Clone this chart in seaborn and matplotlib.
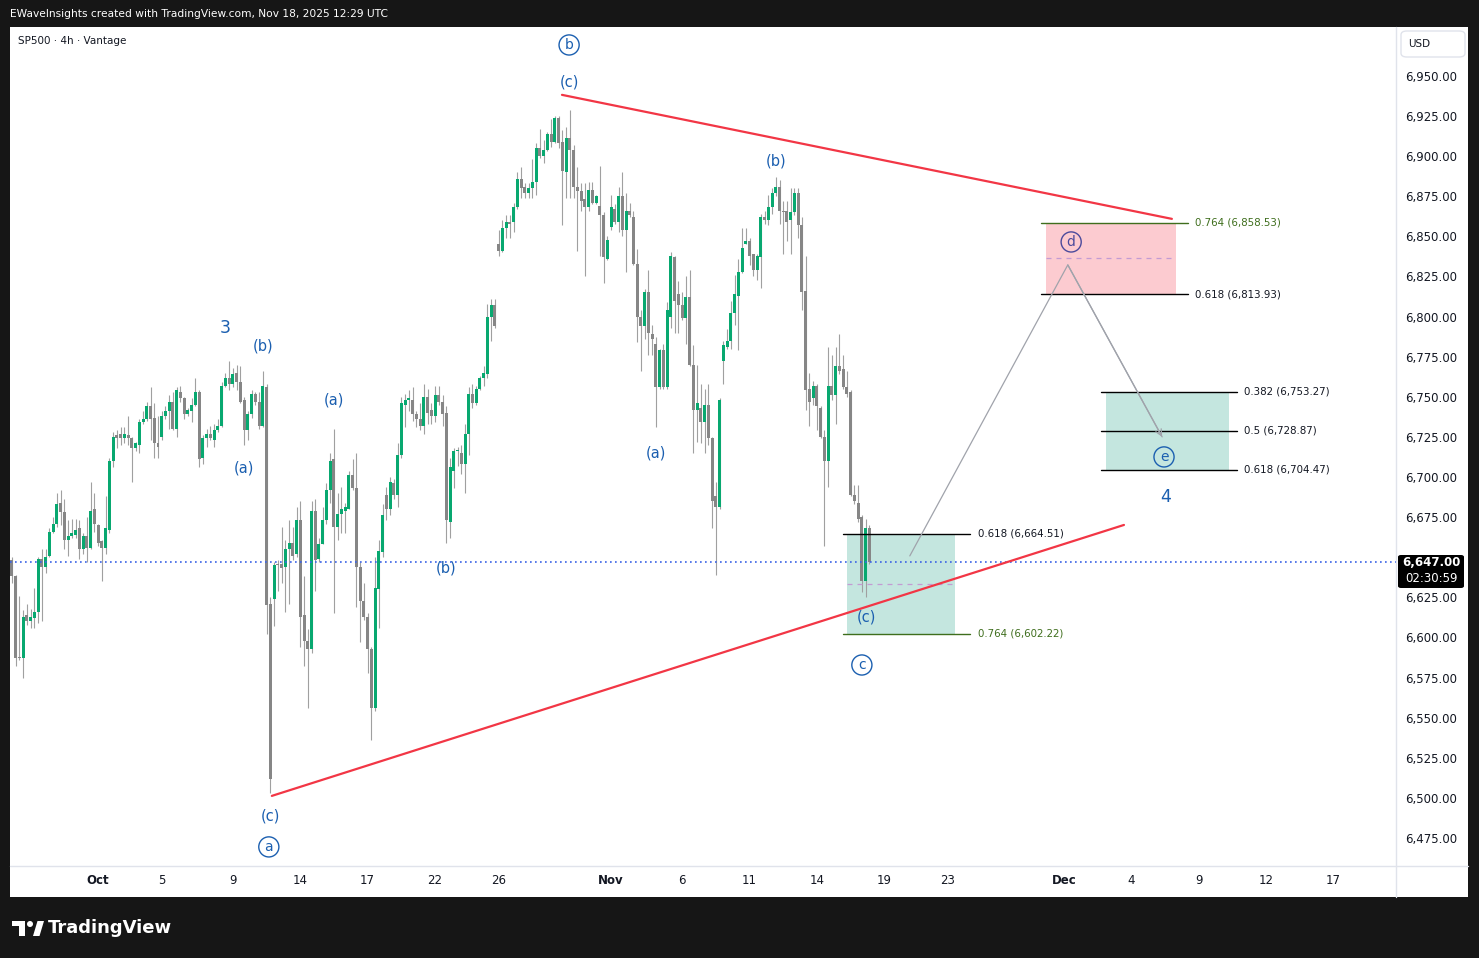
import numpy as np
import pandas as pd
import matplotlib
matplotlib.use("Agg")
import matplotlib.pyplot as plt
import matplotlib.patches as mpatches
from matplotlib.lines import Line2D
import seaborn as sns

W, H = 1479, 958

# ---------------------------------------------
# SP500 4h bars
# ---------------------------------------------
opens = [6648, 6638, 6588, 6587, 6614, 6610, 6612, 6616, 6649, 6644, 6651, 6666, 6671, 6684, 6678, 6661, 6663, 6664, 6668, 6655,
         6663, 6656, 6680, 6670, 6660, 6656, 6667, 6710, 6726,
         6727, 6724, 6726, 6724, 6718, 6720, 6734, 6736, 6744, 6737, 6721, 6725, 6738, 6741, 6747, 6730, 6753, 6749, 6739, 6741,
         6745, 6753, 6712, 6724, 6727, 6723, 6729, 6732, 6757, 6762, 6758, 6765, 6759, 6748, 6729,
         6739, 6752, 6747, 6732, 6756, 6621, 6624, 6646, 6646, 6644, 6655, 6659, 6652, 6673, 6614, 6598, 6593, 6679,
         6649, 6658, 6673, 6692, 6711, 6669, 6677, 6679, 6680, 6701, 6693, 6644, 6623, 6613, 6593, 6556, 6630, 6653, 6689, 6680,
         6696, 6689,
         6714, 6745, 6748, 6748, 6739, 6736, 6732, 6750, 6742, 6738, 6751, 6747, 6740, 6672, 6704, 6716, 6715, 6708, 6727, 6752,
         6746, 6755, 6762, 6764, 6800, 6807, 6845,
         6841, 6855, 6859, 6859, 6868, 6886, 6881, 6877, 6880, 6884, 6905, 6900, 6904, 6914, 6909, 6924, 6909, 6890, 6911, 6904,
         6881, 6878, 6873, 6868, 6879, 6871, 6869, 6863, 6836,
         6856, 6867, 6859, 6875, 6854, 6866, 6862, 6833, 6800, 6794, 6815, 6789, 6783, 6756, 6779, 6756, 6800, 6837, 6814, 6807,
         6799, 6812, 6770, 6742, 6743, 6734, 6745, 6724, 6688, 6681,
         6772, 6781, 6785, 6802, 6813, 6828, 6845, 6847, 6839, 6829, 6837, 6862, 6860, 6868, 6877, 6881, 6866, 6866, 6860, 6865,
         6877, 6857, 6816, 6755,
         6749, 6757, 6743, 6725, 6710, 6757, 6751, 6769, 6767, 6756, 6753, 6689, 6684, 6675, 6635, 6668]
highs = [6650, 6639, 6626, 6617, 6621, 6618, 6631, 6650, 6655, 6655, 6668, 6675, 6690, 6692, 6686, 6673, 6674, 6674, 6673, 6665,
         6675, 6697, 6690, 6671, 6661, 6688, 6712, 6728, 6729,
         6731, 6731, 6738, 6725, 6722, 6736, 6741, 6747, 6756, 6746, 6738, 6741, 6744, 6751, 6753, 6756, 6757, 6750, 6743, 6749,
         6762, 6754, 6726, 6730, 6732, 6733, 6736, 6759, 6765, 6772, 6768, 6770, 6769, 6750, 6741,
         6754, 6753, 6753, 6766, 6758, 6625, 6647, 6648, 6669, 6661, 6673, 6669, 6681, 6685, 6638, 6605, 6685, 6686,
         6662, 6681, 6696, 6715, 6730, 6690, 6694, 6684, 6704, 6711, 6715, 6647, 6634, 6615, 6594, 6650, 6661, 6683, 6694, 6700,
         6699, 6721,
         6750, 6752, 6754, 6756, 6741, 6746, 6758, 6755, 6746, 6757, 6757, 6751, 6744, 6712, 6718, 6719, 6720, 6733, 6756, 6758,
         6757, 6763, 6769, 6808, 6811, 6811, 6854,
         6860, 6863, 6863, 6871, 6890, 6893, 6883, 6883, 6898, 6908, 6917, 6910, 6915, 6923, 6925, 6925, 6916, 6918, 6929, 6907,
         6893, 6883, 6883, 6884, 6884, 6876, 6894, 6865, 6850,
         6876, 6870, 6881, 6890, 6877, 6871, 6866, 6842, 6804, 6817, 6829, 6795, 6787, 6780, 6783, 6809, 6840, 6838, 6822, 6815,
         6825, 6829, 6782, 6770, 6758, 6755, 6758, 6725, 6697, 6749,
         6785, 6792, 6810, 6826, 6836, 6855, 6855, 6849, 6839, 6839, 6864, 6866, 6876, 6880, 6887, 6885, 6872, 6872, 6880, 6880,
         6880, 6862, 6838, 6765,
         6760, 6758, 6744, 6729, 6781, 6776, 6781, 6789, 6776, 6766, 6754, 6695, 6695, 6676, 6674, 6670]
lows = [6634, 6582, 6586, 6575, 6608, 6606, 6606, 6609, 6610, 6640, 6650, 6665, 6669, 6670, 6655, 6651, 6662, 6662, 6649, 6652,
        6647, 6655, 6666, 6657, 6635, 6652, 6665, 6706, 6718,
        6720, 6721, 6720, 6697, 6716, 6715, 6733, 6735, 6723, 6712, 6712, 6723, 6736, 6730, 6729, 6725, 6747, 6736, 6738, 6734,
        6744, 6706, 6708, 6719, 6723, 6719, 6728, 6731, 6756, 6754, 6756, 6754, 6746, 6720, 6723,
        6737, 6745, 6730, 6731, 6602, 6503, 6607, 6629, 6634, 6616, 6621, 6648, 6650, 6594, 6582, 6556, 6590, 6629,
        6647, 6658, 6671, 6684, 6615, 6661, 6665, 6665, 6680, 6692, 6619, 6597, 6611, 6578, 6536, 6554, 6606, 6650, 6673, 6676,
        6686, 6681,
        6712, 6731, 6741, 6735, 6731, 6729, 6727, 6733, 6733, 6734, 6745, 6732, 6659, 6662, 6693, 6707, 6702, 6690, 6714, 6743,
        6745, 6754, 6757, 6762, 6785, 6793, 6838,
        6840, 6849, 6849, 6853, 6867, 6874, 6874, 6874, 6874, 6876, 6899, 6896, 6903, 6906, 6908, 6905, 6857, 6874, 6874, 6874,
        6841, 6866, 6825, 6866, 6870, 6870, 6838, 6821, 6835,
        6854, 6858, 6853, 6850, 6828, 6862, 6832, 6784, 6766, 6786, 6776, 6776, 6731, 6755, 6755, 6755, 6793, 6790, 6790, 6798,
        6783, 6769, 6715, 6722, 6721, 6715, 6720, 6668, 6639, 6680,
        6758, 6780, 6780, 6795, 6779, 6827, 6845, 6832, 6825, 6823, 6818, 6858, 6857, 6864, 6875, 6858, 6839, 6847, 6839, 6863,
        6849, 6804, 6742, 6732,
        6745, 6729, 6724, 6657, 6694, 6748, 6733, 6764, 6755, 6750, 6688, 6683, 6672, 6628, 6625, 6646]
closes = [6638, 6587, 6587, 6613, 6610, 6613, 6616, 6649, 6644, 6650, 6666, 6671, 6683, 6678, 6661, 6663, 6665, 6667, 6655, 6663,
          6656, 6679, 6671, 6659, 6656, 6668, 6710, 6725, 6724,
          6724, 6727, 6724, 6718, 6721, 6734, 6736, 6744, 6736, 6721, 6719, 6738, 6741, 6747, 6730, 6754, 6749, 6739, 6742, 6745,
          6753, 6711, 6724, 6727, 6724, 6729, 6732, 6757, 6762, 6758, 6764, 6759, 6747, 6729, 6739,
          6752, 6747, 6732, 6757, 6620, 6512, 6645, 6645, 6643, 6655, 6659, 6651, 6673, 6613, 6598, 6593, 6679, 6648,
          6658, 6673, 6692, 6710, 6669, 6677, 6680, 6681, 6701, 6693, 6644, 6623, 6613, 6593, 6556, 6631, 6654, 6676, 6680, 6697,
          6689, 6714,
          6746, 6748, 6749, 6739, 6736, 6732, 6750, 6740, 6738, 6751, 6747, 6739, 6673, 6706, 6716, 6716, 6708, 6727, 6752, 6746,
          6755, 6762, 6765, 6800, 6807, 6794, 6841,
          6855, 6859, 6858, 6868, 6886, 6880, 6877, 6880, 6884, 6905, 6900, 6904, 6914, 6909, 6924, 6908, 6891, 6911, 6904, 6881,
          6878, 6872, 6868, 6879, 6871, 6875, 6863, 6837, 6848,
          6868, 6859, 6875, 6854, 6866, 6863, 6833, 6800, 6794, 6815, 6790, 6786, 6756, 6779, 6756, 6804, 6838, 6810, 6807, 6799,
          6812, 6770, 6742, 6746, 6734, 6745, 6724, 6685, 6681, 6748,
          6782, 6785, 6802, 6814, 6828, 6843, 6847, 6838, 6829, 6838, 6862, 6860, 6868, 6877, 6881, 6866, 6865, 6859, 6865, 6877,
          6857, 6815, 6754, 6747,
          6757, 6744, 6725, 6710, 6757, 6751, 6769, 6766, 6756, 6752, 6689, 6685, 6674, 6635, 6668, 6647]

last_price = 6647.00
countdown = "02:30:59"

# time axis (bar index of each date label)
tick_pos = [23, 40, 59, 77, 95, 113, 130, 160, 179, 197, 215, 233, 250, 281, 299, 317, 335, 353]
tick_labels = ["Oct", "5", "9", "14", "17", "22", "26", "Nov", "6", "11", "14", "19", "23",
               "Dec", "4", "9", "12", "17"]
month_labels = ["Oct", "Nov", "Dec"]
price_ticks = list(range(6475, 6951, 25))

# triangle trend lines (bar index, price)
upper_x = [146.9, 309.8]
upper_y = [6938.2, 6860.9]
lower_x = [69.4, 297.0]
lower_y = [6501.2, 6670.1]

# fib target zones
zone_x0 = [223.0, 276.2, 292.2]
zone_x1 = [251.9, 310.9, 325.0]
zone_top = [6664.51, 6858.53, 6753.27]
zone_bottom = [6602.22, 6813.93, 6704.47]

fib_levels = [6664.51, 6602.22, 6858.53, 6813.93, 6753.27, 6728.87, 6704.47]
fib_ratios = ["0.618", "0.764", "0.764", "0.618", "0.382", "0.5", "0.618"]
fib_x0 = [222.0, 222.0, 274.8, 274.8, 290.9, 290.9, 290.9]
fib_x1 = [255.9, 255.9, 314.1, 314.1, 327.2, 327.2, 327.2]
fib_text_x = [258.0, 258.0, 316.0, 316.0, 329.0, 329.0, 329.0]

# projected path d -> e
path_x = [239.8, 282.0, 307.2]
path_y = [6650.8, 6832.2, 6725.0]

# Elliott wave labels
wave_text = ["3", "(b)", "(a)", "(c)", "a", "(a)", "(b)", "b", "(c)", "(b)", "(a)", "(c)", "c", "d", "e", "4"]
wave_x = [56.9, 67.0, 62.0, 68.9, 68.6, 86.0, 115.9, 148.8, 148.8, 204.1, 172.0, 228.1, 227.0, 282.9, 307.7, 308.0]
wave_y = [6792.9, 6781.7, 6705.6, 6488.7, 6469.4, 6748.0, 6643.3, 6969.3, 6946.3, 6897.0,
          6714.9, 6612.8, 6582.8, 6846.5, 6712.5, 6687.6]
wave_circled = [False, False, False, False, True, False, False, True, False, False,
                False, False, True, True, True, False]

GREEN = "#08a870"
GRAY = "#868686"
WICK = "#a0a0a0"
RED = "#f23645"
BLUE = "#1b5fb0"
OLIVE = "#3f6e1d"
TXT = "#131722"
LINE = "#e0e3eb"


def fx(px):
    return px / W


def fy(py):
    return 1 - py / H


def main():
    sns.set_theme(style="white")
    plt.rcParams["font.family"] = ["DejaVu Sans"]

    df = pd.DataFrame({"open": opens, "high": highs, "low": lows, "close": closes})
    df["idx"] = np.arange(len(df))
    up = df["close"] >= df["open"]

    fig = plt.figure(figsize=(W / 100, H / 100), dpi=100, facecolor="#161616")

    # white chart panel (behind the axes)
    fig.patches.append(mpatches.Rectangle((fx(10), fy(897)), (1468 - 10) / W, (897 - 27) / H,
                                          transform=fig.transFigure, fc="white", ec="none", zorder=-5))

    ax = fig.add_axes([fx(10), fy(866), (1396 - 10) / W, (866 - 27) / H])
    ax.set_zorder(1)
    ax.set_facecolor("white")
    ax.set_xlim(-0.53, 369.66)
    ax.set_ylim(6457.5, 6980.5)
    for s in ax.spines.values():
        s.set_visible(False)
    ax.grid(False)

    # candles
    ax.vlines(df["idx"], df["low"], df["high"], color=WICK, linewidth=0.8, zorder=2)
    body_low = np.minimum(df["open"], df["close"])
    body_h = np.maximum((df["close"] - df["open"]).abs(), 0.7)
    ax.bar(df["idx"], body_h, bottom=body_low, width=0.8,
           color=np.where(up, GREEN, GRAY), linewidth=0, zorder=3)

    # last price line
    ax.axhline(last_price, color="#3b63e6", linewidth=1.2, linestyle=(0, (1, 2)), zorder=4)

    # zones
    for x0, x1, top, bot, col in zip(zone_x0, zone_x1, zone_top, zone_bottom,
                                     ["#c4e6df", "#fccbd0", "#c4e6df"]):
        ax.add_patch(mpatches.Rectangle((x0, bot), x1 - x0, top - bot, fc=col, ec="none", zorder=1))
    for x0, x1, top, bot in zip(zone_x0[:2], zone_x1[:2], zone_top[:2], zone_bottom[:2]):
        ax.plot([x0, x1], [(top + bot) / 2] * 2, color="#c39bd3", linewidth=0.9,
                linestyle=(0, (4, 4)), zorder=4)

    for lvl, r, x0, x1, tx in zip(fib_levels, fib_ratios, fib_x0, fib_x1, fib_text_x):
        col = OLIVE if r == "0.764" else "black"
        ax.plot([x0, x1], [lvl, lvl], color=col, linewidth=1.0, zorder=4)
        ax.text(tx, lvl, f"{r} ({lvl:,.2f})", color=col if r == "0.764" else TXT,
                fontsize=7.4, ha="left", va="center", zorder=6)

    # trend lines
    sns.lineplot(x=upper_x, y=upper_y, ax=ax, color=RED, linewidth=1.6, zorder=5)
    sns.lineplot(x=lower_x, y=lower_y, ax=ax, color=RED, linewidth=1.6, zorder=5)

    # projected path
    ax.plot(path_x, path_y, color="#a0a3ab", linewidth=0.9, zorder=5)
    ax.annotate("", xy=(path_x[2], path_y[2]), xytext=(path_x[1], path_y[1]),
                arrowprops=dict(arrowstyle="->", color="#a0a3ab", lw=0.9, mutation_scale=11,
                                shrinkA=0, shrinkB=0), zorder=5)

    # wave labels
    for t, x, y, circ in zip(wave_text, wave_x, wave_y, wave_circled):
        col = "#4b4a9c" if t == "d" else BLUE
        if circ:
            ax.text(x, y, t, color=col, fontsize=10, ha="center", va="center", zorder=7,
                    bbox=dict(boxstyle="circle,pad=0.22", fc="none", ec=col, lw=1.0))
        elif t in ("3", "4"):
            ax.text(x, y, t, color=BLUE, fontsize=12.5, ha="center", va="center", zorder=7)
        else:
            ax.text(x, y, t, color=BLUE, fontsize=10.5, ha="center", va="center", zorder=7)

    # price scale
    ax.yaxis.tick_right()
    shown = [p for p in price_ticks if abs(p - last_price) > 10]
    ax.set_yticks(shown)
    ax.set_yticklabels([f"{p:,.2f}" for p in shown])
    ax.tick_params(axis="y", length=0, pad=6.5, labelsize=8.5, colors=TXT)

    # time scale
    ax.set_xticks(tick_pos)
    ax.set_xticklabels(tick_labels)
    ax.tick_params(axis="x", length=0, pad=6, labelsize=8.5, colors=TXT)
    for lab in ax.get_xticklabels():
        if lab.get_text() in month_labels:
            lab.set_fontweight("bold")

    # separators
    fig.add_artist(Line2D([fx(1396), fx(1396)], [fy(27), fy(897)], color=LINE, lw=1, zorder=3))
    fig.add_artist(Line2D([fx(10), fx(1468)], [fy(866), fy(866)], color=LINE, lw=1, zorder=3))

    # last price tag
    fig.patches.append(mpatches.FancyBboxPatch((fx(1398), fy(588)), (1464 - 1398) / W, (588 - 555) / H,
                                               boxstyle="round,pad=0,rounding_size=0.002",
                                               transform=fig.transFigure, fc="black", ec="none", zorder=5))
    fig.text(fx(1431), fy(563), f"{last_price:,.2f}", color="white", fontsize=8.5,
             fontweight="bold", ha="center", va="center", zorder=6)
    fig.text(fx(1431), fy(579), countdown, color="white", fontsize=8.5,
             ha="center", va="center", zorder=6)

    # currency box
    fig.patches.append(mpatches.FancyBboxPatch((fx(1401), fy(57)), (1465 - 1401) / W, (57 - 31) / H,
                                               boxstyle="round,pad=0,rounding_size=0.004",
                                               transform=fig.transFigure, fc="white", ec=LINE, lw=1, zorder=5))
    fig.text(fx(1408), fy(44), "USD", color=TXT, fontsize=7.5, ha="left", va="center", zorder=6)

    # header texts
    fig.text(fx(10), fy(14), "EWaveInsights created with TradingView.com, Nov 18, 2025 12:29 UTC",
             color="white", fontsize=7.7, ha="left", va="center")
    fig.text(fx(18), fy(41), "SP500 · 4h · Vantage", color=TXT, fontsize=7.5, ha="left", va="center",
             zorder=6)

    # footer logo
    fig.patches.append(mpatches.Rectangle((fx(12), fy(926)), 13 / W, 5 / H, transform=fig.transFigure,
                                          fc="white", ec="none"))
    fig.patches.append(mpatches.Rectangle((fx(19), fy(936)), 6 / W, 15 / H, transform=fig.transFigure,
                                          fc="white", ec="none"))
    fig.patches.append(mpatches.Ellipse((fx(30), fy(924)), 6 / W, 6 / H, transform=fig.transFigure,
                                        fc="white", ec="none"))
    fig.patches.append(mpatches.Polygon([(fx(33), fy(936)), (fx(37.5), fy(921)), (fx(44), fy(921)),
                                         (fx(39.5), fy(936))], closed=True, transform=fig.transFigure,
                                        fc="white", ec="none"))
    fig.text(fx(48), fy(928), "TradingView", color="white", fontsize=13, fontweight="bold",
             ha="left", va="center")

    fig.savefig("out.png", dpi=100, facecolor=fig.get_facecolor())


if __name__ == "__main__":
    main()
